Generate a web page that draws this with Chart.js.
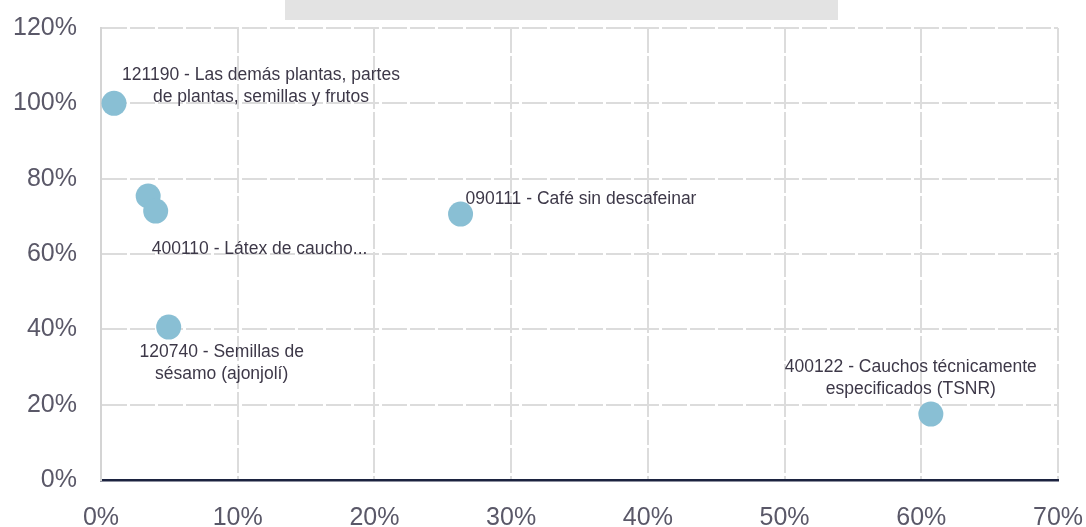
<!DOCTYPE html>
<html lang="es">
<head>
<meta charset="UTF-8">
<title>Dispersión</title>
<style>
  html, body { margin: 0; padding: 0; background: #fff; }
  #wrap { width: 1086px; height: 527px; }
</style>
</head>
<body>
<div id="wrap"><canvas id="grafico" width="1086" height="527"></canvas></div>
<script src="https://cdn.jsdelivr.net/npm/chart.js"></script>
<script>
  // datos (en %)
  const codigos = ['121190', '400110a', '400110', '120740', '090111', '400122'];
  const valoresX = [0.95, 3.45, 4.0, 4.95, 26.3, 60.7];
  const valoresY = [100, 75.4, 71.4, 40.6, 70.6, 17.5];
  const ticksX = [0, 10, 20, 30, 40, 50, 60, 70];
  const ticksY = [0, 20, 40, 60, 80, 100, 120];

  // etiquetas: [indice del punto, lineas]
  const etiquetas = [
    [0, ['121190 - Las demás plantas, partes', 'de plantas, semillas y frutos']],
    [2, ['400110 - Látex de caucho...']],
    [3, ['120740 - Semillas de', 'sésamo (ajonjolí)']],
    [4, ['090111 - Café sin descafeinar']],
    [5, ['400122 - Cauchos técnicamente', 'especificados (TSNR)']]
  ];
  // desplazamiento de cada etiqueta respecto a su punto (dx, dy, alineacion)
  const desplazamientos = [
    [147, -28, 'center'],
    [-4, 38, 'left'],
    [53, 25, 'center'],
    [5, -15, 'left'],
    [-20, -47, 'center']
  ];

  const puntos = valoresX.map((x, i) => ({ x: x, y: valoresY[i] }));

  const pluginEtiquetas = {
    id: 'etiquetas',
    beforeDraw(chart) {
      const ctx = chart.ctx;
      ctx.save();
      ctx.fillStyle = '#e3e3e3';
      ctx.fillRect(285, 0, 553, 20);
      ctx.restore();
    },
    afterDatasetsDraw(chart) {
      const ctx = chart.ctx;
      const sx = chart.scales.x;
      const sy = chart.scales.y;
      ctx.save();
      ctx.font = '17.5px "Liberation Sans", Arial, sans-serif';
      ctx.fillStyle = '#3d3848';
      ctx.textBaseline = 'middle';
      etiquetas.forEach((e, k) => {
        const i = e[0];
        const d = desplazamientos[k];
        const px = sx.getPixelForValue(valoresX[i]) + d[0];
        const py = sy.getPixelForValue(valoresY[i]) + d[1];
        ctx.textAlign = d[2];
        e[1].forEach((linea, j) => {
          ctx.fillText(linea, px, py + j * 22);
        });
      });
      ctx.restore();
    }
  };

  const tickFont = { family: '"Liberation Sans", Arial, sans-serif', size: 25 };

  function sinPadding(axis) {
    axis.paddingTop = 0;
    axis.paddingBottom = 0;
    axis.paddingLeft = 0;
    axis.paddingRight = 0;
  }

  new Chart(document.getElementById('grafico'), {
    type: 'scatter',
    data: {
      datasets: [{
        label: 'Productos',
        data: puntos,
        backgroundColor: '#89bfd4',
        borderWidth: 0,
        pointRadius: 12.5,
        pointHoverRadius: 12.5
      }]
    },
    options: {
      responsive: false,
      animation: false,
      layout: { padding: { top: 28, right: 28, left: 0, bottom: 0 } },
      plugins: {
        legend: { display: false },
        tooltip: { enabled: false }
      },
      scales: {
        x: {
          type: 'linear',
          min: 0,
          max: 70,
          afterBuildTicks(axis) { axis.ticks = ticksX.map(v => ({ value: v })); },
          afterFit(axis) { axis.height = 47; sinPadding(axis); },
          ticks: {
            padding: 23,
            color: '#5a5868',
            font: tickFont,
            callback: v => v + '%'
          },
          grid: { color: '#dcdcdc', lineWidth: 2, drawTicks: false },
          border: { color: '#1c2340', width: 2.5, dash: [25, 3] }
        },
        y: {
          type: 'linear',
          min: 0,
          max: 120,
          afterBuildTicks(axis) { axis.ticks = ticksY.map(v => ({ value: v })); },
          afterFit(axis) { axis.width = 101; sinPadding(axis); },
          ticks: {
            padding: 24,
            color: '#5a5868',
            font: tickFont,
            callback: v => v + '%'
          },
          grid: { color: '#dcdcdc', lineWidth: 2, drawTicks: false },
          border: { color: '#d4d4d4', width: 2, dash: [25, 3] }
        }
      }
    },
    plugins: [pluginEtiquetas]
  });
</script>
</body>
</html>
